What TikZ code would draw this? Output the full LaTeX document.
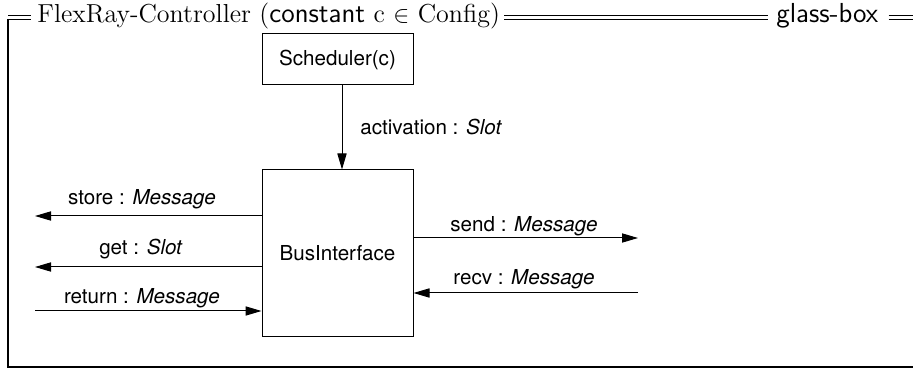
\documentclass[tikz,border=0pt]{standalone}
\usepackage{fontspec}
\newfontfamily\helv{TeX Gyre Heros}
\usetikzlibrary{arrows.meta}
\newcommand\hsf[1]{{\fontsize{13.75}{16}\selectfont\sffamily #1}}
\tikzset{
  blk/.style={draw, line width=0.5pt, minimum width=75.5pt, inner sep=0pt, font=\helv\fontsize{10.3}{12}\selectfont},
  sig/.style={line width=0.5pt, -{Triangle[length=8pt,width=4.6pt]}},
  lbl/.style={font=\helv\fontsize{10.3}{12}\selectfont, inner sep=0pt},
  frm/.style={line width=0.6pt},
  hdr/.style={font=\fontsize{13}{15}\selectfont, inner sep=0pt}
}
\begin{document}
\begin{tikzpicture}[x=0.5pt,y=-0.5pt]
\useasboundingbox (0,0) rectangle (917,369);
% header
\node[hdr, anchor=base west] (title) at (37,23) {FlexRay-Controller (\hsf{constant} c $\in$ Config)};
\node[hdr, anchor=base west] (gb) at (776,23) {\hsf{glass-box}};
\coordinate (tl) at (8,19.5);
\coordinate (br) at (913,367);
% frame
\draw[frm] (8,15.5) -- ([xshift=-3pt]title.west |- 0,15.5) (8,19.5) -- ([xshift=-3pt]title.west |- 0,19.5);
\draw[frm] ([xshift=2pt]title.east |- 0,15.5) -- ([xshift=-4pt]gb.west |- 0,15.5)
           ([xshift=2pt]title.east |- 0,19.5) -- ([xshift=-4pt]gb.west |- 0,19.5);
\draw[frm] ([xshift=5pt]gb.east |- 0,15.5) -- (913,15.5) ([xshift=5pt]gb.east |- 0,19.5) -- (913,19.5);
\draw[frm] (tl) -- (tl |- br) -- (br);
% blocks
\node[blk, minimum height=25.5pt] (sched) at (337.5,59.5) {Scheduler(c)};
\node[blk, minimum height=83pt] (bus) at (337.5,253) {BusInterface};
% free ends
\coordinate (storeEnd) at (35,216);
\coordinate (getEnd) at (35,267);
\coordinate (retStart) at (35,311);
\coordinate (sendEnd) at (638,238);
\coordinate (recvStart) at (638,293);
% connectors
\draw[sig] ([xshift=2.25pt]sched.south) -- ([xshift=2.25pt]bus.north);
\draw[sig] (bus.west |- storeEnd) -- (storeEnd);
\draw[sig] (bus.west |- getEnd) -- (getEnd);
\draw[sig] (retStart) -- (bus.west |- retStart);
\draw[sig] (bus.east |- sendEnd) -- (sendEnd);
\draw[sig] (recvStart) -- (bus.east |- recvStart);
% labels
\node[lbl, anchor=base west] (lact) at (360,135) {activation : \textit{Slot}};
\node[lbl, anchor=base] (lstore) at (142,205) {store : \textit{Message}};
\node[lbl, anchor=base] (lget) at (141,255) {get : \textit{Slot}};
\node[lbl, anchor=base] (lret) at (142,303) {return : \textit{Message}};
\node[lbl, anchor=base] (lsend) at (524,232) {send : \textit{Message}};
\node[lbl, anchor=base] (lrecv) at (524,285) {recv : \textit{Message}};
\end{tikzpicture}
\end{document}
